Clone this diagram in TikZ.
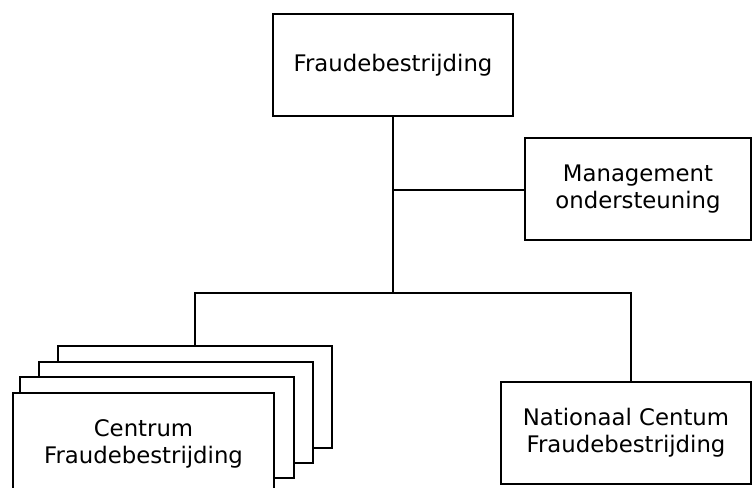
\documentclass[tikz,border=0pt]{standalone}
\usepackage{fontspec}
\setmainfont{DejaVu Sans}
\usepackage{tikz}

\tikzset{
  unitbox/.style={draw=black, fill=white, line width=1pt, inner sep=0pt, align=center,
    font=\fontsize{17.1}{20}\selectfont},
  orgline/.style={draw=black, line width=1pt, line join=miter}
}

\begin{document}
\begin{tikzpicture}[x=0.75pt,y=0.75pt,yscale=-1,xscale=1]
\useasboundingbox (0,0) rectangle (752,488);
\clip (0,0) rectangle (752,488);

% Top box (sizes in pt = px*0.75)
\node [unitbox, minimum width=180pt, minimum height=76.5pt] (fraude) at (393,65) {Fraudebestrijding};
% Staff box
\node [unitbox, minimum width=169.5pt, minimum height=76.5pt] (mgmt) at (638,189) {Management\\ondersteuning};

% Stacked centra
\node [unitbox, minimum width=205.5pt, minimum height=76.5pt] (centrum4) at (195,397) {};
\node [unitbox, minimum width=205.5pt, minimum height=75.75pt] (centrum3) at (176,412.5) {};
\node [unitbox, minimum width=205.5pt, minimum height=75.75pt] (centrum2) at (157,427.5) {};
\node [unitbox, minimum width=195.75pt, minimum height=76.5pt] (centrum1) at (143.5,444) {Centrum\\Fraudebestrijding};

% National centre
\node [unitbox, minimum width=187.5pt, minimum height=76.5pt] (ncf) at (626,433) {Nationaal Centum\\Fraudebestrijding};

% Lines
\coordinate (staff) at (393,190);
\coordinate (bus) at (393,293);
\coordinate (busL) at (195,293);
\coordinate (busR) at (631,293);

\draw [orgline] (fraude.south) -- (bus);
\draw [orgline] (staff) -- (staff -| mgmt.west);
\draw [orgline] (centrum4.north) -- (busL) -- (busR) -- (busR |- ncf.north);

\end{tikzpicture}
\end{document}
